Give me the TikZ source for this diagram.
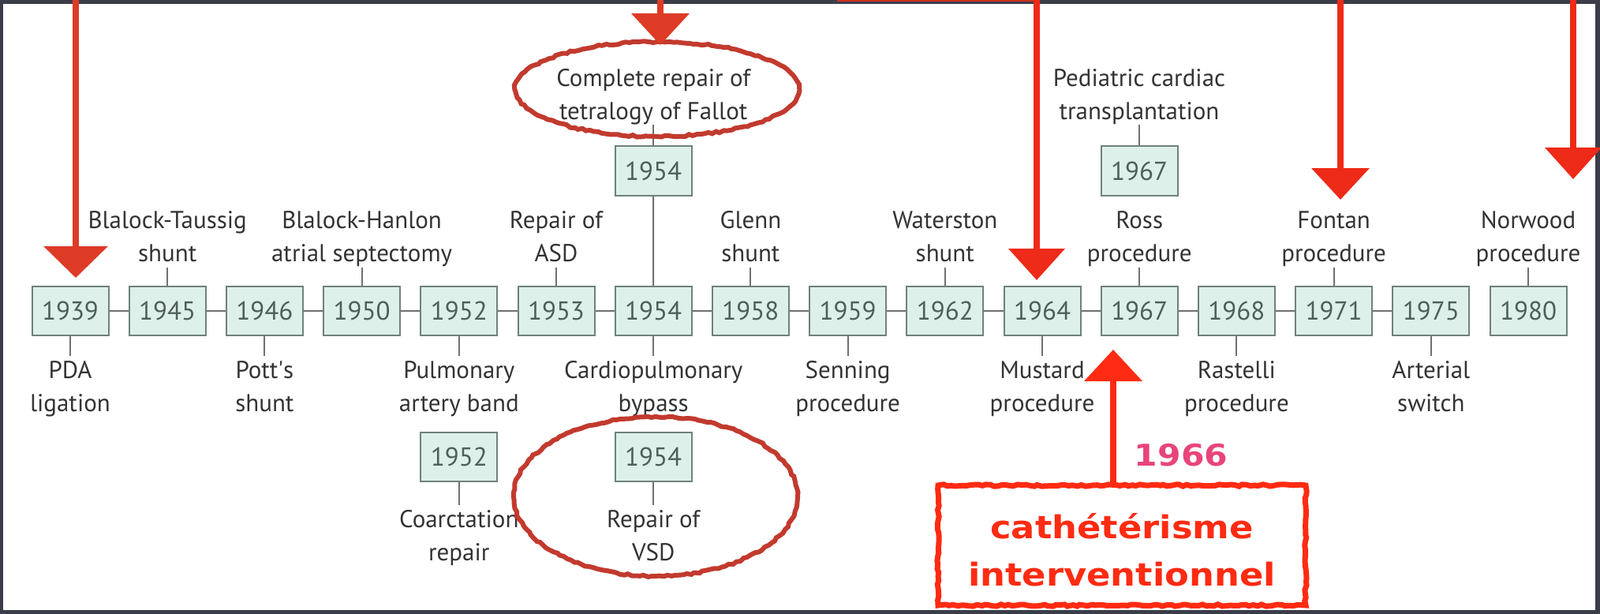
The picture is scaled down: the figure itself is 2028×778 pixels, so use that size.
\documentclass[tikz,border=0pt]{standalone}
\usepackage{fontspec}
\setmainfont{PT Sans}
\newfontfamily\annfont{DejaVu Sans}[FakeStretch=1.12]
\usetikzlibrary{arrows.meta,decorations.pathmorphing}
\definecolor{frame}{HTML}{3B3E49}
\definecolor{boxfill}{HTML}{DDF0E9}
\definecolor{boxdraw}{HTML}{6E827A}
\definecolor{yeartxt}{HTML}{4E5F58}
\definecolor{labtxt}{HTML}{333333}
\definecolor{linegrey}{HTML}{707070}
\definecolor{ellred}{HTML}{C23A2E}
\definecolor{arrred}{HTML}{DD3B26}
\definecolor{arrred2}{HTML}{EE2A18}
\definecolor{brightred}{HTML}{FF2B12}
\definecolor{pinkred}{HTML}{E8457A}
\newcommand\lstrut{\rule[-7pt]{0pt}{35pt}}
\newcommand\twoline[2]{\lstrut#1\\\lstrut#2}
\tikzset{
  yearbox/.style={draw=boxdraw, fill=boxfill, line width=2pt, minimum width=97pt,
    minimum height=62pt, inner sep=0pt, font=\fontsize{33}{40}\selectfont, text=yeartxt},
  lab/.style={align=center, inner sep=0pt, font=\fontsize{31}{42}\selectfont, text=labtxt},
  conn/.style={draw=linegrey, line width=2pt},
  rough/.style={decorate, decoration={random steps, segment length=5pt, amplitude=1.2pt}},
  downarrow/.style={line width=8pt, -{Triangle[width=#1pt,length=40pt]}},
}
\begin{document}
\begin{tikzpicture}[x=1pt,y=-1pt]
\useasboundingbox (0,0) rectangle (2028,778);
\fill[frame] (0,0) rectangle (2028,778);
\fill[white] (4,5) rectangle (2022,773);
\draw[brightred!75!frame, line width=2pt] (1061,1) -- (1313,1);

% main row
\foreach \yr [count=\i from 0] in {1939,1945,1946,1950,1952,1953,1954,1958,1959,1962,1964,1967,1968,1971,1975,1980}
  \node[yearbox] (m\yr) at ({89+123.2*\i},394) {\yr};
\foreach \a/\b in {1939/1945,1945/1946,1946/1950,1950/1952,1952/1953,1953/1954,1954/1958,1958/1959,1959/1962,1962/1964,1964/1967,1967/1968,1968/1971,1971/1975}
  \draw[conn] (m\a) -- (m\b);

% labels above
\foreach \yr/\ta/\tb in {1945/Blalock-Taussig/shunt, 1950/Blalock-Hanlon/atrial septectomy,
  1953/Repair of/ASD, 1958/Glenn/shunt, 1962/Waterston/shunt, 1967/Ross/procedure,
  1971/Fontan/procedure, 1980/Norwood/procedure}{
  \node[lab, anchor=south, yshift=23pt] (u\yr) at (m\yr.north) {\twoline{\ta}{\tb}};
  \draw[conn] (u\yr) -- (m\yr);
}
% labels below
\foreach \yr/\ta/\tb in {1939/PDA/ligation, 1946/Pott\textquotesingle s/shunt,
  1952/Pulmonary/artery band, 1954/Cardiopulmonary/bypass, 1959/Senning/procedure,
  1964/Mustard/procedure, 1968/Rastelli/procedure, 1975/Arterial/switch}{
  \node[lab, anchor=north, yshift=-25pt] (d\yr) at (m\yr.south) {\twoline{\ta}{\tb}};
  \draw[conn] (m\yr) -- (d\yr);
}

% upper chains
\node[yearbox] (ub1954) at (828.2,216.5) {1954};
\node[lab, anchor=south, yshift=26pt] (ul1954) at (ub1954.north) {\twoline{Complete repair of}{tetralogy of Fallot}};
\draw[conn] (ul1954) -- (ub1954);
\draw[conn] (ub1954) -- (m1954);
\node[yearbox] (ub1967) at (1444,216.5) {1967};
\node[lab, anchor=south, yshift=26pt] (ul1967) at (ub1967.north) {\twoline{Pediatric cardiac}{transplantation}};
\draw[conn] (ul1967) -- (ub1967);

% lower chains
\node[yearbox] (lb1952) at (581.8,579) {1952};
\node[lab, anchor=north, yshift=-29pt] (ll1952) at (lb1952.south) {\twoline{Coarctation}{repair}};
\draw[conn] (lb1952) -- (ll1952);
\node[yearbox] (lb1954) at (828.2,579) {1954};
\node[lab, anchor=north, yshift=-29pt] (ll1954) at (lb1954.south) {\twoline{Repair of}{VSD}};
\draw[conn] (lb1954) -- (ll1954);

% red annotations
\draw[ellred, line width=6pt, rough] (833,113) ellipse [x radius=180pt, y radius=60pt];
\draw[ellred, line width=6pt, rough] (831,629) ellipse [x radius=180pt, y radius=101pt];

\coordinate (a1s) at (96,0);   \coordinate (a1e) at (96,352);
\coordinate (a2s) at (837,0);  \coordinate (a2e) at (837,57);
\coordinate (a3s) at (1314,0); \coordinate (a3e) at (1314,355);
\coordinate (a4s) at (1699,0); \coordinate (a4e) at (1699,253);
\coordinate (a5s) at (1994,0); \coordinate (a5e) at (1994,227);
\draw[arrred, downarrow=80] (a1s) -- (a1e);
\draw[arrred, downarrow=72] (a2s) -- (a2e);
\draw[arrred2, downarrow=70] (a3s) -- (a3e);
\draw[arrred2, downarrow=72] (a4s) -- (a4e);
\draw[arrred2, downarrow=70] (a5s) -- (a5e);

\node[draw=brightred, line width=7pt, rough, minimum width=466pt, minimum height=152pt] (cath) at (1422,691) {};
\node[text=brightred, align=center, inner sep=0pt, font=\annfont\bfseries\fontsize{40}{60}\selectfont] (cathtxt) at ([yshift=-6pt]cath.center) {cathétérisme\\interventionnel};
\coordinate (uptip) at (1411,443);
\draw[brightred, downarrow=72] (cath.north -| uptip) -- (uptip);
\node[text=pinkred, inner sep=0pt, font=\annfont\bfseries\fontsize{38}{40}\selectfont] (y1966) at (1497,577) {1966};
\end{tikzpicture}
\end{document}
